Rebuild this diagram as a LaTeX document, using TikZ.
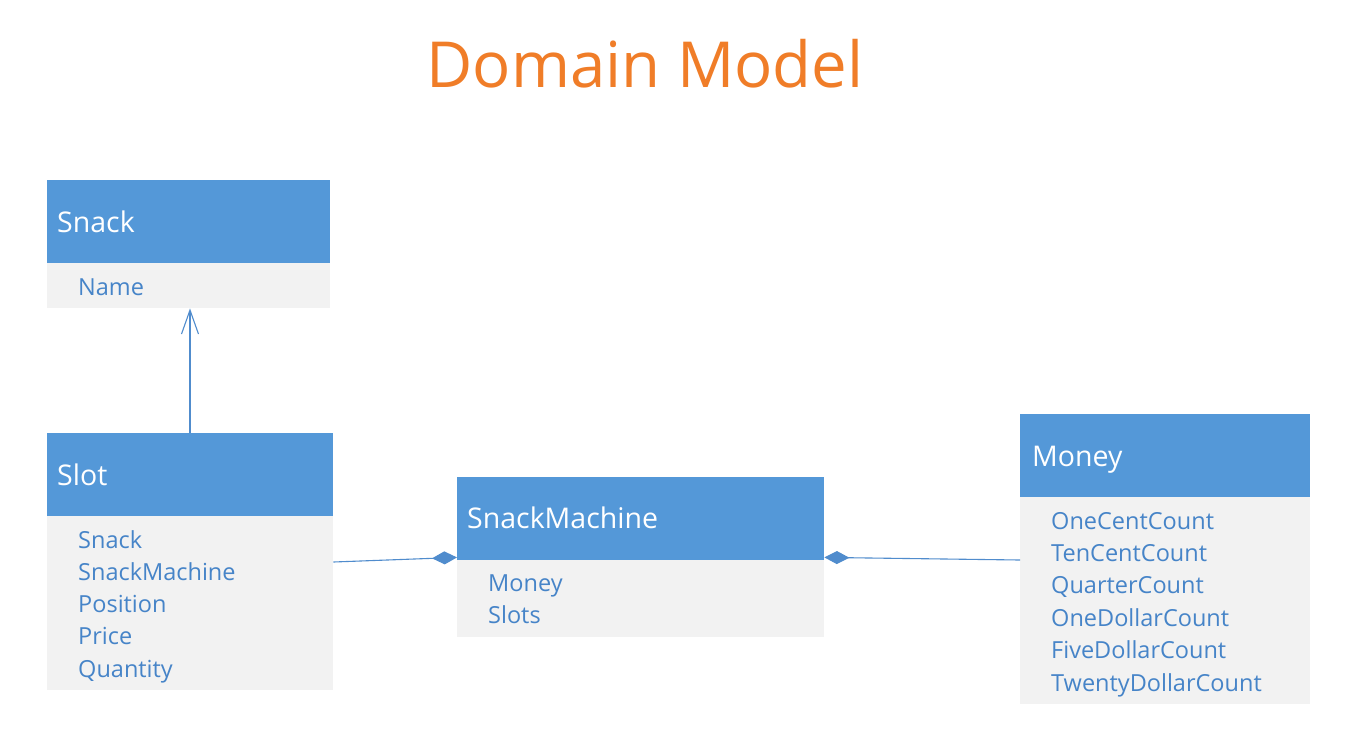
\documentclass[tikz,border=0pt]{standalone}
\usepackage{fontspec}
\setmainfont{Open Sans}
\usetikzlibrary{arrows.meta,calc}
\definecolor{hdr}{RGB}{84,152,216}
\definecolor{bodyc}{RGB}{242,242,242}
\definecolor{attr}{RGB}{70,132,200}
\definecolor{ttl}{RGB}{240,125,40}
\definecolor{conn}{RGB}{80,140,205}
\tikzset{
  hdrbox/.style={fill=hdr,draw=none,anchor=north west,inner sep=0pt},
  bodybox/.style={fill=bodyc,draw=none,anchor=north west,inner sep=0pt},
  hdrtext/.style={anchor=base west,inner sep=0pt,text=white,font=\fontsize{28.5}{32}\selectfont},
  attrtext/.style={anchor=base west,inner sep=0pt,text=attr,font=\fontsize{23.5}{28}\selectfont},
  conline/.style={draw=conn,line width=1.1pt},
}
\begin{document}
\begin{tikzpicture}[x=1pt,y=-1pt]
\useasboundingbox[fill=white] (0,0) rectangle (1348,729);
\node[anchor=base,text=ttl,font=\fontsize{63.5}{70}\selectfont,inner sep=0pt] (title) at (645,87) {Domain Model};
% Snack
\node[hdrbox,minimum width=283pt,minimum height=83pt] (snackH) at (47,180) {};
\node[bodybox,minimum width=283pt,minimum height=45pt] (snackB) at (47,263) {};
\node[hdrtext] (snackT) at (57,232) {Snack};
\node[attrtext] (snackA1) at (78,295) {Name};
% Slot
\node[hdrbox,minimum width=286pt,minimum height=83pt] (slotH) at (47,433) {};
\node[bodybox,minimum width=286pt,minimum height=174pt] (slotB) at (47,516) {};
\node[hdrtext] (slotT) at (57,485) {Slot};
\foreach \t [count=\i from 0] in {Snack,SnackMachine,Position,Price,Quantity}
  \node[attrtext] (slotA\i) at (78,548+32.3*\i) {\t};
% SnackMachine
\node[hdrbox,minimum width=367pt,minimum height=83pt] (smH) at (457,477) {};
\node[bodybox,minimum width=367pt,minimum height=77pt] (smB) at (457,560) {};
\node[hdrtext] (smT) at (467,528) {SnackMachine};
\foreach \t [count=\i from 0] in {Money,Slots}
  \node[attrtext] (smA\i) at (488,591+32.3*\i) {\t};
% Money
\node[hdrbox,minimum width=290pt,minimum height=83pt] (mH) at (1020,414) {};
\node[bodybox,minimum width=290pt,minimum height=207pt] (mB) at (1020,497) {};
\node[hdrtext] (mT) at (1032,466) {Money};
\foreach \t [count=\i from 0] in {OneCentCount,TenCentCount,QuarterCount,OneDollarCount,FiveDollarCount,TwentyDollarCount}
  \node[attrtext] (mA\i) at (1051,529+32.4*\i) {\t};
% connectors
\draw[conline,-{Straight Barb[length=24pt,width=17pt,line width=1.1pt]}] (slotH.north -| 190,0) -- (snackB.south -| 190,0);
\coordinate (sl1) at ($(slotB.north east)+(0,46)$);
\coordinate (sm1) at ($(smH.south west)+(0,-3)$);
\draw[conline,{Diamond[length=25pt,width=13pt,fill=conn]}-] (sm1) -- (sl1);
\coordinate (sm2) at ($(smH.south east)+(0,-3)$);
\coordinate (mo1) at ($(mB.north west)+(0,63)$);
\draw[conline,{Diamond[length=25pt,width=13pt,fill=conn]}-] (sm2) -- (mo1);
\end{tikzpicture}
\end{document}
